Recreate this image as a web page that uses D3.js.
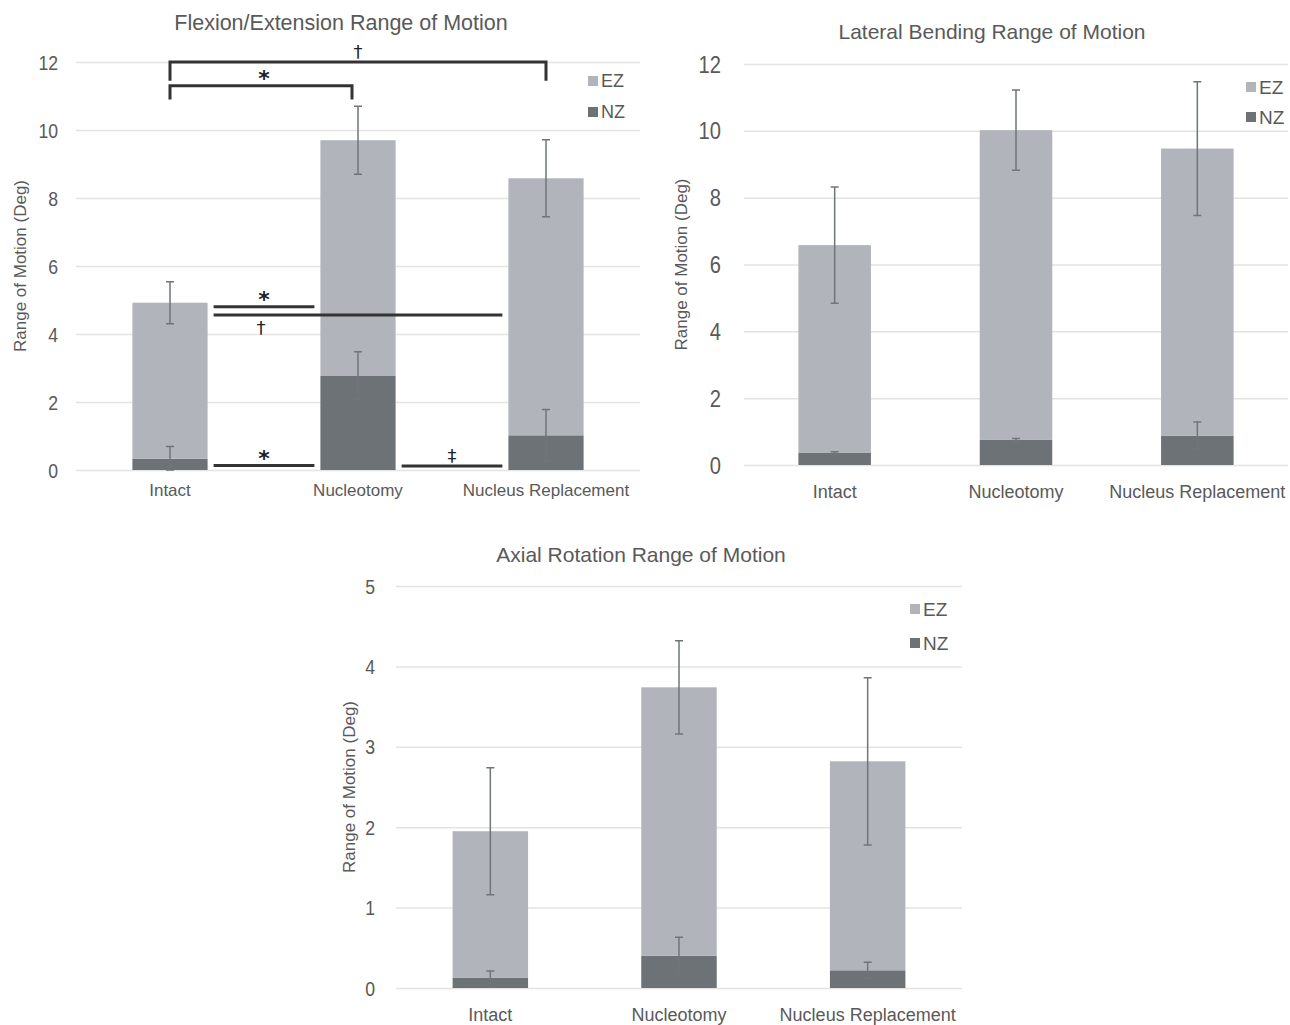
<!DOCTYPE html>
<html lang="en">
<head>
<meta charset="utf-8">
<title>Range of Motion</title>
<script src="https://cdn.jsdelivr.net/npm/d3@7"></script>
<style>
  body { margin: 0; background: #fff; }
  svg { display: block; font-family: "Liberation Sans", Arial, sans-serif; }
  .grid line { stroke: #e3e3e3; stroke-width: 1.5; }
  .tick-label { fill: #595959; }
  .cat-label { fill: #595959; }
  .title { fill: #595959; }
  .err { stroke: #6f7579; stroke-width: 1.5; fill: none; }
  .sig { stroke: #333; stroke-width: 3; fill: none; }
  .mark { fill: #222; font-family: "DejaVu Sans", sans-serif; }
</style>
</head>
<body>
<script>
// ---- data ----
var categories = ["Intact", "Nucleotomy", "Nucleus Replacement"];
var legendLabels = ["EZ", "NZ"];

// flexion / extension
var flexNZ = [0.33, 2.78, 1.02];
var flexEZ = [4.59, 6.92, 7.56];
var flexNZErr = [0.36, 0.7, 0.76];
var flexTotalErr = [0.62, 1.0, 1.13];
var flexTicks = [0, 2, 4, 6, 8, 10, 12];

// lateral bending
var latNZ = [0.36, 0.75, 0.88];
var latEZ = [6.22, 9.27, 8.59];
var latNZErr = [0.04, 0.04, 0.41];
var latTotalErr = [1.74, 1.2, 2.0];
var latTicks = [0, 2, 4, 6, 8, 10, 12];

// axial rotation
var axNZ = [0.13, 0.4, 0.22];
var axEZ = [1.82, 3.34, 2.6];
var axNZErr = [0.08, 0.23, 0.1];
var axTotalErr = [0.79, 0.58, 1.04];
var axTicks = [0, 1, 2, 3, 4, 5];

// significance marks on the flexion chart (category indexes, values in degrees)
var flexBrackets = [
  { from: 0, to: 2, y: 12, leg: 11.45, mark: "\u2020" },
  { from: 0, to: 1, y: 11.3, leg: 10.9, mark: "*" }
];
var flexSigLines = [
  { from: 0, to: 1, y: 4.8, mark: "*", above: true },
  { from: 0, to: 2, y: 4.56, mark: "\u2020", above: false },
  { from: 0, to: 1, y: 0.13, mark: "*", above: true },
  { from: 1, to: 2, y: 0.12, mark: "\u2021", above: true }
];

var colEZ = "#b1b5bb", colNZ = "#6c7276";

var svg = d3.select("body").append("svg")
  .attr("width", 1290).attr("height", 1025);

function drawChart(o) {
  var g = svg.append("g");
  var x = d3.scaleBand().domain(categories).range([o.x0, o.x1])
    .paddingInner(0.6).paddingOuter(0.3);
  var y = d3.scaleLinear().domain([0, d3.max(o.ticks)]).range([o.yBottom, o.yTop]);

  // gridlines
  g.append("g").attr("class", "grid")
    .attr("transform", "translate(" + o.x0 + ",0)")
    .call(d3.axisLeft(y).tickValues(o.ticks).tickSize(-(o.x1 - o.x0)).tickFormat(""))
    .call(function(s) { s.select(".domain").remove(); });

  // tick labels (narrow, like the original)
  g.selectAll(".tick-label").data(o.ticks).enter().append("text")
    .attr("class", "tick-label")
    .attr("transform", function(d) { return "translate(" + (o.x0 - o.tickGap) + "," + y(d) + ") scale(0.84,1)"; })
    .attr("dy", "0.36em").attr("text-anchor", "end")
    .style("font-size", o.tickSize + "px")
    .text(function(d) { return d; });

  // stacked bars
  var rows = categories.map(function(c, i) {
    return { cat: c, nz: o.nz[i], ez: o.ez[i], nzErr: o.nzErr[i], totErr: o.totErr[i] };
  });
  g.selectAll(".nz").data(rows).enter().append("rect")
    .attr("x", function(d) { return x(d.cat); })
    .attr("width", x.bandwidth())
    .attr("y", function(d) { return y(d.nz); })
    .attr("height", function(d) { return y(0) - y(d.nz); })
    .attr("fill", colNZ);
  g.selectAll(".ez").data(rows).enter().append("rect")
    .attr("x", function(d) { return x(d.cat); })
    .attr("width", x.bandwidth())
    .attr("y", function(d) { return y(d.nz + d.ez); })
    .attr("height", function(d) { return y(d.nz) - y(d.nz + d.ez); })
    .attr("fill", colEZ);

  // error bars
  var errs = [];
  rows.forEach(function(d) {
    errs.push({ cat: d.cat, v: d.nz, e: d.nzErr });
    errs.push({ cat: d.cat, v: d.nz + d.ez, e: d.totErr });
  });
  var cx = function(d) { return x(d.cat) + x.bandwidth() / 2; };
  g.selectAll(".err").data(errs).enter().append("path")
    .attr("class", "err")
    .attr("d", function(d) {
      var c = cx(d), t = y(d.v + d.e), b = y(Math.max(0, d.v - d.e));
      return "M" + c + "," + t + "V" + b +
        "M" + (c - 4) + "," + t + "H" + (c + 4) +
        "M" + (c - 4) + "," + b + "H" + (c + 4);
    });

  // category labels
  g.selectAll(".cat-label").data(categories).enter().append("text")
    .attr("class", "cat-label")
    .attr("x", function(d) { return x(d) + x.bandwidth() / 2; })
    .attr("y", o.yBottom + o.catGap)
    .attr("text-anchor", "middle")
    .style("font-size", o.catSize + "px")
    .text(function(d) { return d; });

  // title
  g.append("text").attr("class", "title")
    .attr("x", o.titleX).attr("y", o.titleY)
    .attr("text-anchor", "middle")
    .style("font-size", o.titleSize + "px")
    .text(o.title);

  // y axis title
  g.append("text").attr("class", "title")
    .attr("transform", "translate(" + o.yLabX + "," + ((o.yTop + o.yBottom) / 2) + ") rotate(-90)")
    .attr("text-anchor", "middle")
    .style("font-size", o.yLabSize + "px")
    .text("Range of Motion (Deg)");

  // legend
  var lg = g.selectAll(".lg").data(legendLabels).enter().append("g")
    .attr("transform", function(d, i) { return "translate(" + o.legX + "," + (o.legY + i * o.legStep) + ")"; });
  lg.append("rect").attr("x", 0).attr("y", -5).attr("width", 10).attr("height", 10)
    .attr("fill", function(d, i) { return i === 0 ? colEZ : colNZ; });
  lg.append("text").attr("x", 13).attr("dy", "0.36em")
    .attr("class", "tick-label")
    .style("font-size", o.legSize + "px")
    .text(function(d) { return d; });

  return { g: g, x: x, y: y };
}

var flex = drawChart({
  nz: flexNZ, ez: flexEZ, nzErr: flexNZErr, totErr: flexTotalErr, ticks: flexTicks,
  x0: 76, x1: 640, yTop: 62, yBottom: 470,
  tickSize: 21, tickGap: 18, catSize: 17, catGap: 26, titleSize: 21.5, titleX: 341, titleY: 30,
  yLabX: 26, yLabSize: 17, legX: 588, legY: 81, legStep: 31, legSize: 18,
  title: "Flexion/Extension Range of Motion"
});

drawChart({
  nz: latNZ, ez: latEZ, nzErr: latNZErr, totErr: latTotalErr, ticks: latTicks,
  x0: 744, x1: 1288, yTop: 64, yBottom: 465,
  tickSize: 24, tickGap: 23, catSize: 18, catGap: 33, titleSize: 21, titleX: 992, titleY: 39,
  yLabX: 687, yLabSize: 17, legX: 1246, legY: 87, legStep: 30, legSize: 19,
  title: "Lateral Bending Range of Motion"
});

drawChart({
  nz: axNZ, ez: axEZ, nzErr: axNZErr, totErr: axTotalErr, ticks: axTicks,
  x0: 396, x1: 962, yTop: 586, yBottom: 988,
  tickSize: 21, tickGap: 21, catSize: 18, catGap: 33, titleSize: 21, titleX: 641, titleY: 562,
  yLabX: 355, yLabSize: 17, legX: 910, legY: 609, legStep: 34, legSize: 19,
  title: "Axial Rotation Range of Motion"
});

// significance annotations on the flexion chart
(function() {
  var g = flex.g, x = flex.x, y = flex.y, bw = x.bandwidth();
  var mid = function(i) { return x(categories[i]) + bw / 2; };

  flexBrackets.forEach(function(b) {
    var a = mid(b.from), c = mid(b.to) - (b.to === 1 ? 6 : 0);
    g.append("path").attr("class", "sig").attr("stroke-width", 2.5)
      .attr("d", "M" + a + "," + y(b.leg) + "V" + y(b.y) + "H" + c + "V" + y(b.leg));
    g.append("text").attr("class", "mark")
      .attr("x", (mid(b.from) + mid(b.to)) / 2).attr("y", y(b.y) - (b.mark === "*" ? 0 : 4))
      .attr("text-anchor", "middle")
      .style("font-size", b.mark === "*" ? "22px" : "18px")
      .style("font-weight", b.mark === "*" ? "bold" : "normal")
      .text(b.mark);
  });

  flexSigLines.forEach(function(s) {
    var a = x(categories[s.from]) + bw + 6;
    var c = x(categories[s.to]) - 6;
    var gapMid = (x(categories[s.from]) + bw + x(categories[s.from + 1])) / 2;
    g.append("line").attr("class", "sig")
      .attr("x1", a).attr("x2", c).attr("y1", y(s.y)).attr("y2", y(s.y));
    var isStar = s.mark === "*";
    g.append("text").attr("class", "mark")
      .attr("x", gapMid - (s.above ? 0 : 3))
      .attr("y", s.above ? y(s.y) - (isStar ? 0 : 4) : y(s.y) + 19)
      .attr("text-anchor", "middle")
      .style("font-size", isStar ? "22px" : "18px")
      .style("font-weight", isStar ? "bold" : "normal")
      .text(s.mark);
  });
})();
</script>
</body>
</html>
